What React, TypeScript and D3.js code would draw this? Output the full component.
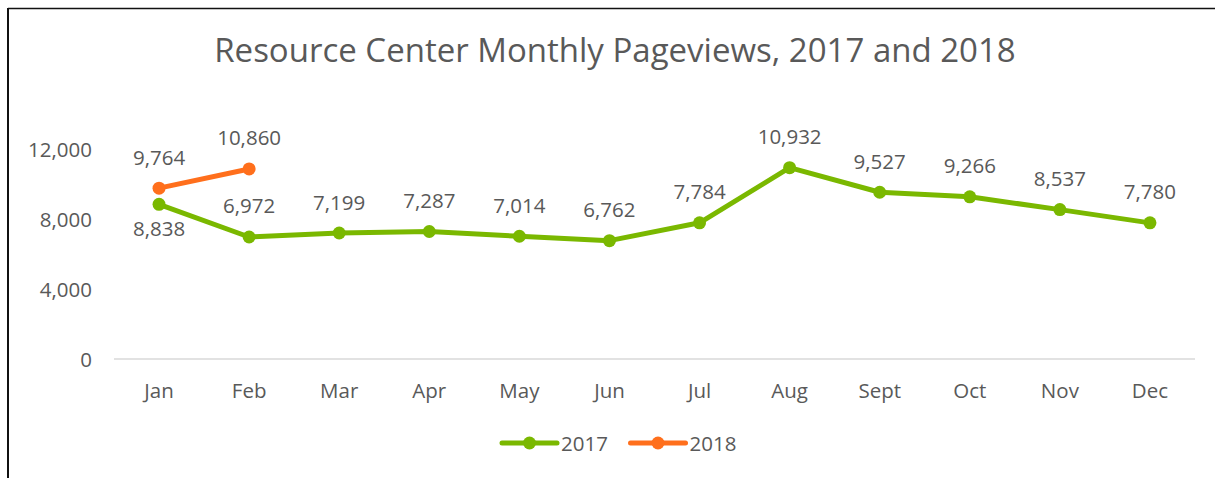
import React from "react";
import * as d3 from "d3";

const months = ["Jan", "Feb", "Mar", "Apr", "May", "Jun", "Jul", "Aug", "Sept", "Oct", "Nov", "Dec"];
const values2017 = [8838, 6972, 7199, 7287, 7014, 6762, 7784, 10932, 9527, 9266, 8537, 7780];
const values2018 = [9764, 10860];
const yTicks = [0, 4000, 8000, 12000];
const seriesNames = ["2017", "2018"];
const colors = ["#7AB800", "#FF6F1C"];

const W = 1215;
const H = 478;
const FONT = "'Open Sans', 'Noto Sans', sans-serif";
const TEXT = "#595959";
const FS = 20.5;

export default function App() {
  const x = d3.scaleBand<string>().domain(months).range([114, 1195]);
  const y = d3.scaleLinear().domain([0, 12000]).range([359, 149]);
  const fmt = d3.format(",");
  const cx = (m: string) => (x(m) as number) + x.bandwidth() / 2;
  const line = d3
    .line<number>()
    .x((_, i) => cx(months[i]))
    .y((d) => y(d));

  const series = [values2017, values2018];

  return (
    <svg
      width={W}
      height={H}
      style={{ position: "absolute", left: 0, top: 0, display: "block" }}
      fontFamily={FONT}
    >
      <rect x={0} y={0} width={W} height={H} fill="#fff" />
      <line x1={8} y1={8.5} x2={W} y2={8.5} stroke="#111" strokeWidth={1.5} />
      <line x1={8} y1={8} x2={8} y2={H} stroke="#111" strokeWidth={2} />
      <text x={615} y={62} textAnchor="middle" fontSize={33} fill={TEXT}>
        Resource Center Monthly Pageviews, 2017 and 2018
      </text>
      {yTicks.map((t) => (
        <text key={t} x={92} y={y(t) + 7.5} textAnchor="end" fontSize={FS} fill={TEXT}>
          {fmt(t)}
        </text>
      ))}
      <line x1={114} x2={1195} y1={y(0)} y2={y(0)} stroke="#d9d9d9" strokeWidth={1.5} />
      {months.map((m) => (
        <text key={m} x={cx(m)} y={397.5} textAnchor="middle" fontSize={FS} fill={TEXT}>
          {m}
        </text>
      ))}
      {series.map((vals, si) => (
        <g key={si}>
          <path
            d={line(vals) || ""}
            fill="none"
            stroke={colors[si]}
            strokeWidth={5}
            strokeLinejoin="round"
            strokeLinecap="round"
          />
          {vals.map((v, i) => (
            <circle key={i} cx={cx(months[i])} cy={y(v)} r={6.5} fill={colors[si]} />
          ))}
          {vals.map((v, i) => {
            const below = si === 0 && i === 0;
            return (
              <text
                key={"l" + i}
                x={cx(months[i])}
                y={y(v) + (below ? 32 : -23.5)}
                textAnchor="middle"
                fontSize={FS}
                fill={TEXT}
              >
                {fmt(v)}
              </text>
            );
          })}
        </g>
      ))}
      {seriesNames.map((s, i) => {
        const lx = 502 + i * 128.5;
        return (
          <g key={s}>
            <line x1={lx} x2={lx + 55} y1={443} y2={443} stroke={colors[i]} strokeWidth={5} strokeLinecap="round" />
            <circle cx={lx + 27.5} cy={443} r={6.5} fill={colors[i]} />
            <text x={lx + 59} y={450.5} fontSize={FS} fill={TEXT}>
              {s}
            </text>
          </g>
        );
      })}
    </svg>
  );
}
